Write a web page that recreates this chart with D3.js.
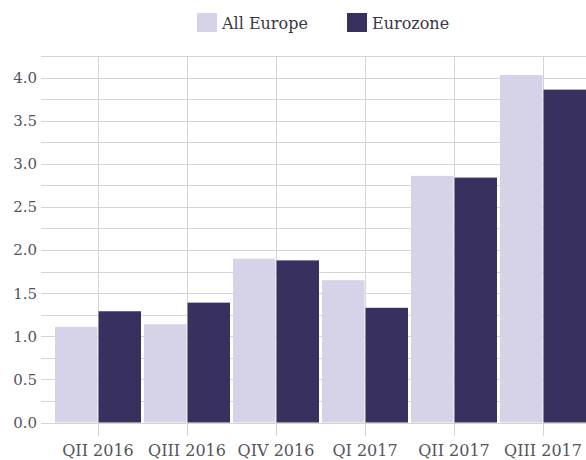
<!DOCTYPE html>
<html>
<head>
<meta charset="utf-8">
<script src="https://cdn.jsdelivr.net/npm/d3@7"></script>
<style>
  html, body { margin: 0; padding: 0; background: #fff; }
  svg { display: block; }
</style>
</head>
<body>
<svg id="chart" width="586" height="460"></svg>
<script>
const categories = ["QII 2016", "QIII 2016", "QIV 2016", "QI 2017", "QII 2017", "QIII 2017"];
const seriesNames = ["All Europe", "Eurozone"];
const allEurope = [1.11, 1.14, 1.90, 1.65, 2.86, 4.03];
const eurozone = [1.29, 1.39, 1.88, 1.33, 2.84, 3.86];
const yTickLabels = [0, 0.5, 1.0, 1.5, 2.0, 2.5, 3.0, 3.5, 4.0];
const yGridValues = [0, 0.25, 0.5, 0.75, 1, 1.25, 1.5, 1.75, 2, 2.25, 2.5, 2.75, 3, 3.25, 3.5, 3.75, 4, 4.25];
const colors = ["#d6d3e8", "#38315f"];

const svg = d3.select("#chart");
const font = "'DejaVu Serif', serif";

const y = d3.scaleLinear().domain([0, 4.25]).range([422.5, 56]);
const x = d3.scaleBand().domain(categories).range([53.5, 587.5]).padding(0);
const xs = d3.scaleBand().domain(seriesNames).range([1.5, 87.5]).paddingInner(0.025);

// horizontal gridlines
svg.append("g").selectAll("line").data(yGridValues).join("line")
  .attr("x1", 41).attr("x2", 586)
  .attr("y1", d => Math.round(y(d)) + 0.5).attr("y2", d => Math.round(y(d)) + 0.5)
  .attr("stroke", "#d4d4d4").attr("stroke-width", 1);

// vertical gridlines at category centres
svg.append("g").selectAll("line").data(categories).join("line")
  .attr("x1", d => Math.round(x(d) + x.bandwidth() / 2) + 0.5)
  .attr("x2", d => Math.round(x(d) + x.bandwidth() / 2) + 0.5)
  .attr("y1", 56).attr("y2", 436)
  .attr("stroke", "#d4d4d4").attr("stroke-width", 1);

// y labels
svg.append("g").selectAll("text").data(yTickLabels).join("text")
  .attr("x", 37).attr("y", d => y(d))
  .attr("dy", "0.36em")
  .attr("text-anchor", "end")
  .attr("font-family", font).attr("font-size", 15)
  .attr("fill", "#55535e")
  .text(d => d3.format(".1f")(d));

// x labels
svg.append("g").selectAll("text").data(categories).join("text")
  .attr("x", d => x(d) + x.bandwidth() / 2).attr("y", 456)
  .attr("text-anchor", "middle")
  .attr("font-family", font).attr("font-size", 16)
  .attr("fill", "#55535e")
  .text(d => d);

// bars
const rows = categories.map((c, i) => ({ cat: c, vals: [allEurope[i], eurozone[i]] }));
const groups = svg.append("g").selectAll("g").data(rows).join("g")
  .attr("transform", d => `translate(${x(d.cat)},0)`);
groups.selectAll("rect").data(d => d.vals.map((v, j) => ({ s: seriesNames[j], v, j }))).join("rect")
  .attr("x", d => xs(d.s))
  .attr("width", xs.bandwidth())
  .attr("y", d => y(d.v))
  .attr("height", d => y(0) - y(d.v))
  .attr("fill", d => colors[d.j]);

// legend
const legendX = [197, 347];
const lg = svg.append("g").selectAll("g").data(seriesNames).join("g")
  .attr("transform", (d, i) => `translate(${legendX[i]},13)`);
lg.append("rect").attr("width", 20).attr("height", 19).attr("fill", (d, i) => colors[i]);
lg.append("text").attr("x", 25).attr("y", 15.5)
  .attr("font-family", font).attr("font-size", 16)
  .attr("fill", "#3a3745")
  .text(d => d);
</script>
</body>
</html>
